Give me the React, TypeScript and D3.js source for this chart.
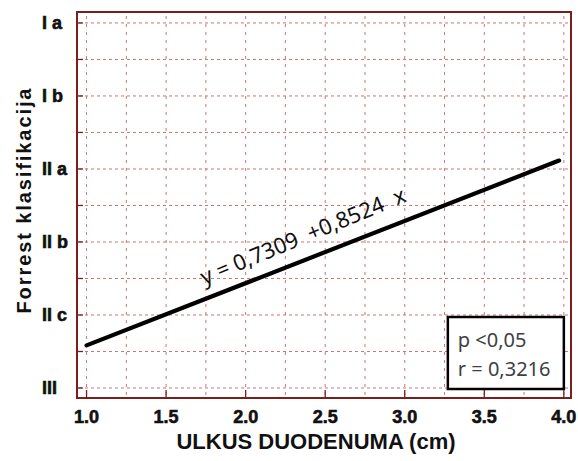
import React from 'react';
import * as d3 from 'd3';

// Forrest classes, bottom (1) to top (6)
const categories = ['III', 'II c', 'II b', 'II a', 'I b', 'I a'];
const categoryValues = [1, 2, 3, 4, 5, 6];
const halfSteps = [1, 1.5, 2, 2.5, 3, 3.5, 4, 4.5, 5, 5.5, 6];
const xTicks = [1.0, 1.5, 2.0, 2.5, 3.0, 3.5, 4.0];
const xGrid = [1.0, 1.25, 1.5, 1.75, 2.0, 2.25, 2.5, 2.75, 3.0, 3.25, 3.5, 3.75, 4.0];
const intercept = 0.7309;
const slope = 0.8524;
const lineX = [1.0, 3.97];
const statLines = ['p <0,05', 'r = 0,3216'];

const W = 578;
const H = 461;
const frameColor = '#7a1e1e';
const gridColor = '#b44a4a';

export default function App() {
  const x = d3.scaleLinear().domain([0.94, 4.045]).range([77, 571]);
  const y = d3.scaleLinear().domain([0.863, 6.15]).range([398, 12]);
  const [left, right] = x.range();
  const [bottom, top] = y.range();

  const regLine = d3
    .line<number>()
    .x((d) => x(d))
    .y((d) => y(intercept + slope * d));

  // equation sits just above the fit line
  const eqX = 1.74;
  const ex = x(eqX);
  const ey = y(intercept + slope * eqX) - 14;

  const boxRight = x(4.0);
  const boxBottom = bottom - 9;
  const boxW = 116;
  const boxH = 72;

  const boldFont = "'Liberation Sans', Arial, sans-serif";

  return (
    <svg width={W} height={H} style={{ position: 'absolute', left: 0, top: 0, background: '#fff' }}>
      {/* grid */}
      <g stroke={gridColor} strokeWidth={1} strokeDasharray="3,3" opacity={0.75}>
        {halfSteps.map((v) => (
          <line key={'h' + v} x1={left + 2} x2={right - 2} y1={y(v)} y2={y(v)} />
        ))}
        {xGrid.map((v) => (
          <line key={'v' + v} x1={x(v)} x2={x(v)} y1={top + 4} y2={bottom - 2} strokeDasharray="3,5" />
        ))}
      </g>

      {/* inner ticks */}
      <g stroke={frameColor} strokeWidth={1.3}>
        {halfSteps.map((v) => (
          <line key={'lt' + v} x1={left} x2={left + 6} y1={y(v)} y2={y(v)} />
        ))}
        {xTicks.map((v) => (
          <line key={'bt' + v} x1={x(v)} x2={x(v)} y1={bottom} y2={bottom - 8} />
        ))}
      </g>

      {/* frame */}
      <rect x={left} y={top} width={right - left} height={bottom - top} fill="none" stroke={frameColor} strokeWidth={2} />

      {/* regression line */}
      <path d={regLine(lineX) || ''} fill="none" stroke="#000" strokeWidth={4.2} strokeLinecap="round" />

      <text
        x={ex}
        y={ey}
        transform={`rotate(-22.5, ${ex}, ${ey})`}
        fontFamily="'Noto Sans', sans-serif"
        fontSize={22}
        fill="#111"
        style={{ whiteSpace: 'pre' }}
      >
        {'y = 0,7309  +0,8524  x'}
      </text>

      {/* stats box */}
      <rect
        x={boxRight - boxW}
        y={boxBottom - boxH}
        width={boxW}
        height={boxH}
        fill="#fff"
        stroke="#000"
        strokeWidth={2.5}
      />
      {statLines.map((s, i) => (
        <text
          key={s}
          x={boxRight - boxW + 10}
          y={boxBottom - boxH + 30 + i * 29}
          fontFamily="'Noto Sans', sans-serif"
          fontSize={20}
          fill="#404040"
        >
          {s}
        </text>
      ))}

      {/* y tick labels */}
      {categories.map((c, i) => (
        <text
          key={c}
          x={42}
          y={y(categoryValues[i]) + 6.5}
          fontFamily={boldFont}
          fontWeight="bold"
          fontSize={18}
          fill="#111"
          stroke="#111"
          strokeWidth={0.6}
          style={{ whiteSpace: 'pre' }}
        >
          {c}
        </text>
      ))}

      {/* x tick labels */}
      {xTicks.map((v) => (
        <text
          key={'xl' + v}
          x={x(v)}
          y={423}
          textAnchor="middle"
          fontFamily={boldFont}
          fontWeight="bold"
          fontSize={18}
          fill="#111"
          stroke="#111"
          strokeWidth={0.6}
        >
          {d3.format('.1f')(v)}
        </text>
      ))}

      {/* axis titles */}
      <text
        x={316}
        y={449}
        textAnchor="middle"
        fontFamily={boldFont}
        fontWeight="bold"
        fontSize={22}
        fill="#111"
      >
        ULKUS DUODENUMA (cm)
      </text>
      <text
        transform={`translate(31, 201) rotate(-90)`}
        textAnchor="middle"
        fontFamily={boldFont}
        fontWeight="bold"
        fontSize={20}
        fill="#111"
        textLength={225}
        lengthAdjust="spacing"
      >
        Forrest klasifikacija
      </text>
    </svg>
  );
}
